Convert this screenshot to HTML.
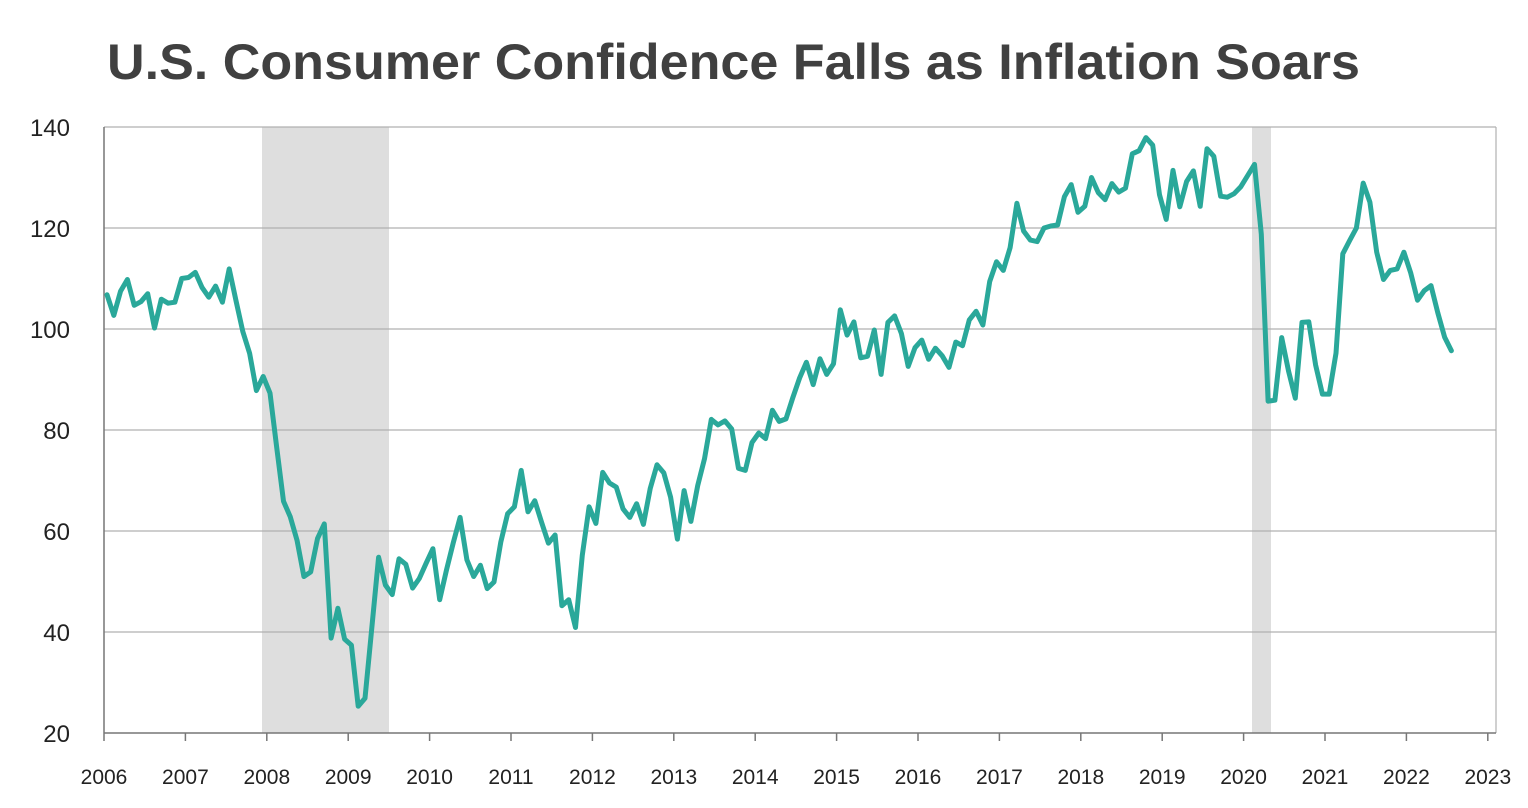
<!DOCTYPE html>
<html><head><meta charset="utf-8"><style>
body{margin:0;background:#fff;}
svg{display:block;font-family:"Liberation Sans",sans-serif;}
</style></head><body>
<svg id="s" width="1528" height="808" viewBox="0 0 1528 808" xmlns="http://www.w3.org/2000/svg">
<text x="107" y="79" font-size="50" font-weight="bold" fill="#404040" textLength="1253" lengthAdjust="spacingAndGlyphs">U.S. Consumer Confidence Falls as Inflation Soars</text>
<rect x="262" y="127" width="127" height="606" fill="#dedede"/>
<rect x="1252" y="127" width="19" height="606" fill="#dedede"/>
<g stroke="#b0b0b0" stroke-width="1.2">
<line x1="104" x2="1496" y1="127" y2="127"/>
<line x1="104" x2="1496" y1="228" y2="228"/>
<line x1="104" x2="1496" y1="329" y2="329"/>
<line x1="104" x2="1496" y1="430" y2="430"/>
<line x1="104" x2="1496" y1="531" y2="531"/>
<line x1="104" x2="1496" y1="632" y2="632"/>
<line x1="1496" x2="1496" y1="127" y2="733"/>
</g>
<g stroke="#777" stroke-width="1.5">
<line x1="104" x2="1496" y1="733" y2="733"/>
<line x1="104" x2="104" y1="127" y2="733"/>
</g>
<g id="ticks" stroke="#777" stroke-width="1.5"></g>
<g font-size="24" fill="#222" text-anchor="end">
<text x="70" y="136">140</text><text x="70" y="237">120</text><text x="70" y="338">100</text>
<text x="70" y="439">80</text><text x="70" y="540">60</text><text x="70" y="641">40</text><text x="70" y="742">20</text>
</g>
<g id="xl" font-size="21" fill="#222" text-anchor="middle"></g>
<polyline id="ln" fill="none" stroke="#2aa89a" stroke-width="5" stroke-linejoin="round" stroke-linecap="round"/>
</svg>
<script>
var d=[106.8,102.7,107.5,109.8,104.7,105.4,107.0,100.2,105.9,105.1,105.3,110.0,
110.2,111.2,108.2,106.3,108.5,105.3,111.9,105.6,99.5,95.2,87.8,90.6,
87.3,76.4,65.9,62.8,58.1,51.0,51.9,58.5,61.4,38.8,44.7,38.6,
37.4,25.3,26.9,40.8,54.8,49.3,47.4,54.5,53.4,48.7,50.6,53.6,
56.5,46.4,52.3,57.7,62.7,54.3,51.0,53.2,48.6,49.9,57.8,63.4,
64.8,72.0,63.8,66.0,61.7,57.6,59.2,45.2,46.4,40.9,55.2,64.8,
61.5,71.6,69.5,68.7,64.4,62.7,65.4,61.3,68.4,73.1,71.5,66.7,
58.4,68.0,61.9,69.0,74.3,82.1,81.0,81.8,80.2,72.4,72.0,77.5,
79.4,78.3,83.9,81.7,82.2,86.4,90.3,93.4,89.0,94.1,91.0,93.1,
103.8,98.8,101.4,94.3,94.6,99.8,91.0,101.3,102.6,99.1,92.6,96.3,
97.8,94.0,96.2,94.7,92.4,97.4,96.7,101.8,103.5,100.8,109.4,113.3,
111.6,116.1,124.9,119.4,117.6,117.3,120.0,120.4,120.6,126.2,128.6,123.1,
124.3,130.0,127.0,125.6,128.8,127.1,127.9,134.7,135.3,137.9,136.4,126.6,
121.7,131.4,124.2,129.2,131.3,124.3,135.7,134.2,126.3,126.1,126.8,128.2,
130.4,132.6,118.8,85.7,85.9,98.3,91.7,86.3,101.3,101.4,92.9,87.1,
87.1,95.2,114.9,117.5,120.0,128.9,125.1,115.2,109.8,111.6,111.9,115.2,
111.1,105.7,107.6,108.6,103.2,98.4,95.7];
var p=d.map(function(v,i){return (107+i*6.79).toFixed(1)+","+(733-(v-20)*5.05).toFixed(1)}).join(" ");
document.getElementById("ln").setAttribute("points",p);
var t="",l="";
for(var y=0;y<=17;y++){var x=104+y*81.4;t+='<line x1="'+x+'" x2="'+x+'" y1="733" y2="741"/>';l+='<text x="'+x+'" y="784">'+(2006+y)+'</text>';}
document.getElementById("ticks").innerHTML=t;document.getElementById("xl").innerHTML=l;
</script>
</body></html>
